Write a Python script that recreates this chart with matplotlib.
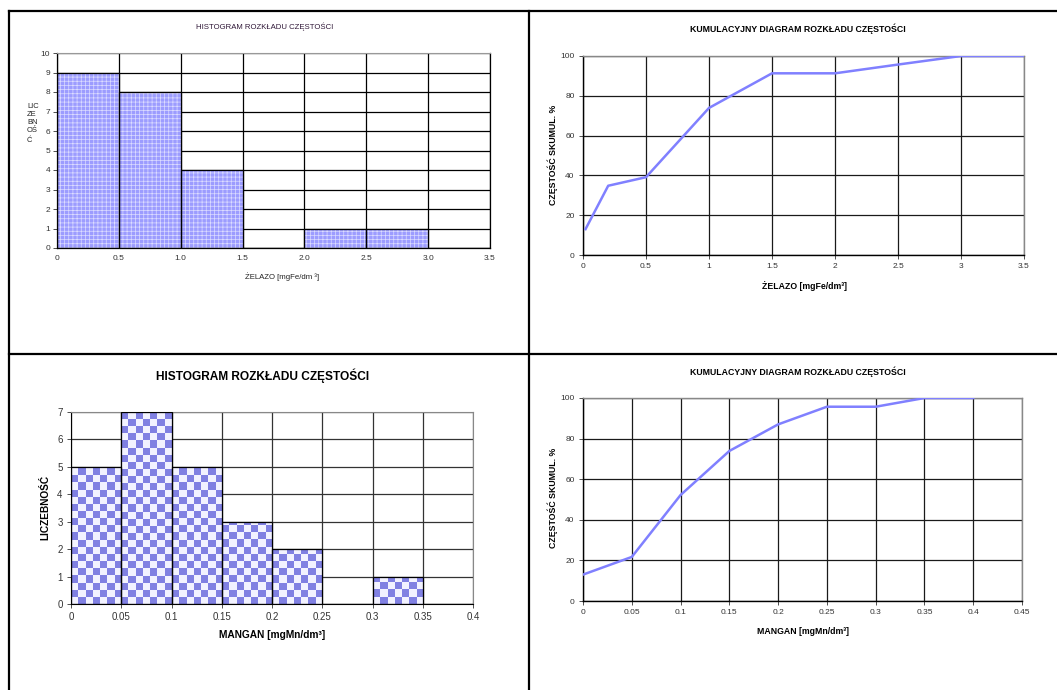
import numpy as np
import matplotlib
matplotlib.use("Agg")
import matplotlib.pyplot as plt
from matplotlib.lines import Line2D

plt.rcParams['font.family'] = ['Liberation Sans', 'DejaVu Sans']
plt.rcParams['hatch.linewidth'] = 0.5

W, H = 1057, 690

# ---------------- data ----------------
fe_bin_edges = [0.0, 0.5, 1.0, 1.5, 2.0, 2.5, 3.0, 3.5]
fe_counts = [9, 8, 4, 0, 1, 1, 0]
fe_tick_labels = ["0", "0.5", "1.0", "1.5", "2.0", "2.5", "3.0", "3.5"]

fe_cum_x = [0.02, 0.2, 0.5, 1.0, 1.5, 2.0, 2.5, 3.0, 3.5]
fe_cum_y = [13.0, 34.8, 39.1, 73.9, 91.3, 91.3, 95.7, 100.0, 100.0]

mn_bin_edges = [0.0, 0.05, 0.1, 0.15, 0.2, 0.25, 0.3, 0.35, 0.4]
mn_counts = [5, 7, 5, 3, 2, 0, 1, 0]
mn_tick_labels = ["0", "0.05", "0.1", "0.15", "0.2", "0.25", "0.3", "0.35", "0.4"]

mn_cum_x = [0.0, 0.05, 0.1, 0.15, 0.2, 0.25, 0.3, 0.35, 0.4]
mn_cum_y = [13.0, 21.7, 52.2, 73.9, 87.0, 95.7, 95.7, 100.0, 100.0]

# ---------------- helpers ----------------
fig = plt.figure(figsize=(W / 100, H / 100), dpi=100)


def ax_px(left, top, right, bottom):
    return fig.add_axes([left / W, 1 - bottom / H, (right - left) / W, (bottom - top) / H])


def ftext(x, y, s, **kw):
    fig.text(x / W, 1 - y / H, s, **kw)


def fline(x0, y0, x1, y1):
    fig.add_artist(Line2D([x0 / W, x1 / W], [1 - y0 / H, 1 - y1 / H],
                          color='black', lw=1.6, transform=fig.transFigure))


# table frame
fline(9, 11, W, 11)
fline(9, 11, 9, H)
fline(529, 11, 529, H)
fline(9, 354, W, 354)

TICK_COL = '#333333'
NARROW = ['Liberation Sans Narrow', 'Liberation Sans']

# ---------------- top-left: Fe histogram ----------------
ax1 = ax_px(57, 53, 490, 248)
lefts = fe_bin_edges[:-1]
widths = np.diff(fe_bin_edges)
ax1.bar(lefts, fe_counts, width=widths, align='edge', facecolor='#9c9cff',
        edgecolor='#dcdcff', linewidth=0, hatch='++++', zorder=2)
ax1.bar(lefts, fe_counts, width=widths, align='edge', fill=False,
        edgecolor='black', linewidth=0.9, zorder=3)
ax1.set_xlim(fe_bin_edges[0], fe_bin_edges[-1])
ax1.set_ylim(0, 10)
ax1.set_yticks(range(0, 11))
ax1.set_xticks(fe_bin_edges)
ax1.set_xticklabels(fe_tick_labels)
ax1.grid(True, color='black', lw=0.9, zorder=1)
ax1.set_axisbelow(True)
for s in ['left', 'bottom', 'right']:
    ax1.spines[s].set_color('black')
    ax1.spines[s].set_linewidth(0.9)
ax1.spines['top'].set_color('#999999')
ax1.tick_params(labelsize=6, colors=TICK_COL, length=3, width=0.6, pad=2)
ax1.tick_params(axis='x', length=0, pad=5)

ftext(265, 27, "HISTOGRAM ROZKŁADU CZĘSTOŚCI", ha='center', va='center',
      fontsize=5.6, color='#301838')
ftext(282, 277, "ŻELAZO [mgFe/dm ³]", ha='center', va='center', fontsize=5.6, color='#222222')
for txt, yy in zip(["LIC", "ZE", "BN", "OŚ", "Ć"], [106, 114, 122, 131, 141]):
    ftext(27, yy, txt, ha='left', va='center', fontsize=5.4, color='#222222')

# ---------------- top-right: Fe cumulative ----------------
def cum_axes(ax, xs, ys, xmax, xstep, xtl):
    ax.plot(xs, ys, color='#8080ff', lw=1.8, zorder=3, solid_joinstyle='round')
    ax.set_xlim(0, xmax)
    ax.set_ylim(0, 100)
    ax.set_yticks(range(0, 101, 20))
    ticks = np.round(np.arange(0, xmax + xstep / 2, xstep), 3)
    ax.set_xticks(ticks)
    ax.set_xticklabels(xtl)
    ax.grid(True, color='#1a1a1a', lw=0.9, zorder=1)
    ax.set_axisbelow(True)
    ax.spines['left'].set_color('black')
    ax.spines['bottom'].set_color('black')
    ax.spines['top'].set_color('#888888')
    ax.spines['right'].set_color('#888888')
    for s in ax.spines.values():
        s.set_linewidth(1.0)
    ax.tick_params(labelsize=6, colors=TICK_COL, length=3, width=0.6, pad=3)


ax2 = ax_px(583, 56, 1024, 255)
cum_axes(ax2, fe_cum_x, fe_cum_y, 3.5, 0.5,
         ["0", "0.5", "1", "1.5", "2", "2.5", "3", "3.5"])
ftext(798, 29, "KUMULACYJNY DIAGRAM ROZKŁADU CZĘSTOŚCI", ha='center', va='center',
      fontsize=6.3, fontweight='bold', family=NARROW)
ftext(804, 286, "ŻELAZO [mgFe/dm³]", ha='center', va='center', fontsize=6.3,
      fontweight='bold', family=NARROW)
ftext(553, 155, "CZĘSTOŚĆ SKUMUL. %", ha='center', va='center', rotation=90,
      fontsize=6.3, fontweight='bold', family=NARROW)

# ---------------- bottom-left: Mn histogram ----------------
ax3 = ax_px(71, 412, 473, 604)
lefts = mn_bin_edges[:-1]
widths = np.diff(mn_bin_edges)
xmin, xmax = mn_bin_edges[0], mn_bin_edges[-1]
ymin, ymax = 0, 7
bars = ax3.bar(lefts, mn_counts, width=widths, align='edge', fill=False,
               edgecolor='black', linewidth=0.9, zorder=3)

ncol, nrow = 56, 27
ii, jj = np.meshgrid(np.arange(ncol), np.arange(nrow))
chk = ((ii + jj) % 2).astype(float)
blue = np.array([0x80, 0x80, 0xe2]) / 255.0
white = np.array([0xf2, 0xf2, 0xff]) / 255.0
img = np.where(chk[..., None] > 0.5, blue, white)
for b in bars:
    if b.get_height() <= 0:
        continue
    im = ax3.imshow(img, extent=[xmin, xmax, ymin, ymax], aspect='auto',
                    interpolation='nearest', origin='lower', zorder=2)
    im.set_clip_path(b)

ax3.set_xlim(xmin, xmax)
ax3.set_ylim(ymin, ymax)
ax3.set_xticks(mn_bin_edges)
ax3.set_xticklabels(mn_tick_labels)
ax3.set_yticks(range(0, 8))
ax3.grid(True, color='#333333', lw=0.9, zorder=1)
ax3.set_axisbelow(True)
ax3.spines['left'].set_color('black')
ax3.spines['bottom'].set_color('black')
ax3.spines['top'].set_color('#888888')
ax3.spines['right'].set_color('#888888')
ax3.tick_params(labelsize=7, colors=TICK_COL, length=3, width=0.6, pad=3)

ftext(263, 376, "HISTOGRAM ROZKŁADU CZĘSTOŚCI", ha='center', va='center',
      fontsize=8.6, fontweight='bold', color='black')
ftext(272, 635, "MANGAN [mgMn/dm³]", ha='center', va='center', fontsize=7.3,
      fontweight='bold')
ftext(45, 507, "LICZEBNOŚĆ", ha='center', va='center', rotation=90, fontsize=7.3,
      fontweight='bold')

# ---------------- bottom-right: Mn cumulative ----------------
ax4 = ax_px(583, 398, 1022, 601)
cum_axes(ax4, mn_cum_x, mn_cum_y, 0.45, 0.05,
         ["0", "0.05", "0.1", "0.15", "0.2", "0.25", "0.3", "0.35", "0.4", "0.45"])
ftext(798, 372, "KUMULACYJNY DIAGRAM ROZKŁADU CZĘSTOŚCI", ha='center', va='center',
      fontsize=6.3, fontweight='bold', family=NARROW)
ftext(803, 631, "MANGAN [mgMn/dm³]", ha='center', va='center', fontsize=6.3,
      fontweight='bold', family=NARROW)
ftext(553, 498, "CZĘSTOŚĆ SKUMUL. %", ha='center', va='center', rotation=90,
      fontsize=6.3, fontweight='bold', family=NARROW)

fig.savefig("out.png", dpi=100)
